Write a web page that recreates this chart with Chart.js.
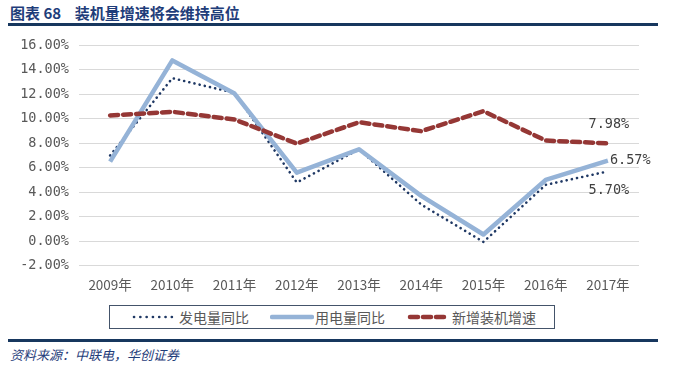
<!DOCTYPE html>
<html>
<head>
<meta charset="utf-8">
<script src="https://cdn.jsdelivr.net/npm/chart.js@4/dist/chart.umd.min.js"></script>
<style>
  body { margin: 0; background: #fff; }
  #wrap { position: relative; width: 673px; height: 370px; overflow: hidden; font-family: "Noto Sans CJK SC", sans-serif; }
  #title { position: absolute; left: 10px; top: 2px; font-size: 15px; font-weight: bold; color: #1F3D7A; white-space: pre; }
  .rule { position: absolute; left: 8px; width: 650px; height: 3px; background: #17375E; }
  #chartBox { position: absolute; left: 0; top: 27px; width: 673px; height: 277px; }
  #legend { position: absolute; left: 109px; top: 305px; width: 444px; height: 22px; border: 1px solid #44546A; font-size: 14px; color: #595959; }
  .item { position: absolute; top: 0; height: 22px; line-height: 22px; white-space: nowrap; }
  .item svg { position: absolute; top: 8px; left: 0; }
  .item span { position: absolute; top: 0; }
  #source { position: absolute; left: 10px; top: 345px; font-size: 13px; font-style: italic; color: #1F3D7A; }
</style>
</head>
<body>
<div id="wrap">
  <div id="title">图表 68    装机量增速将会维持高位</div>
  <div class="rule" style="top:23px"></div>
  <div id="chartBox"><canvas id="myChart"></canvas></div>
  <div id="legend">
    <div class="item" style="left:22px">
      <svg width="42" height="6"><line x1="2" y1="3" x2="40" y2="3" stroke="#1F3864" stroke-width="2.6" stroke-linecap="round" stroke-dasharray="0.1 6.2"/></svg>
      <span style="left:47px">发电量同比</span>
    </div>
    <div class="item" style="left:160px">
      <svg width="44" height="6"><line x1="2" y1="3" x2="42" y2="3" stroke="#95B3D7" stroke-width="4.5" stroke-linecap="round"/></svg>
      <span style="left:45px">用电量同比</span>
    </div>
    <div class="item" style="left:297px">
      <svg width="42" height="6"><line x1="3" y1="3" x2="40" y2="3" stroke="#953735" stroke-width="4.5" stroke-linecap="round" stroke-dasharray="8 5"/></svg>
      <span style="left:45px">新增装机增速</span>
    </div>
  </div>
  <div class="rule" style="top:339px"></div>
  <div id="source">资料来源：中联电，华创证券</div>
</div>
<script>
const years = ['2009年', '2010年', '2011年', '2012年', '2013年', '2014年', '2015年', '2016年', '2017年'];
const genGrowth = [7.0, 13.3, 12.1, 4.8, 7.5, 3.0, -0.05, 4.6, 5.70];
const useGrowth = [6.5, 14.75, 12.05, 5.6, 7.5, 3.7, 0.55, 5.0, 6.57];
const capGrowth = [10.26, 10.56, 9.93, 7.97, 9.71, 8.98, 10.61, 8.22, 7.98];
const yMin = -2, yMax = 16, yStep = 2;

const monoFont = { family: '"DejaVu Sans Mono", monospace', size: 13.5 };

// labels on the last point of each series
const endLabels = {
    id: 'endLabels',
    afterDatasetsDraw(chart) {
        const ctx = chart.ctx;
        const xs = chart.scales.x, ys = chart.scales.y;
        const last = years.length - 1;
        const x = xs.getPixelForValue(last);
        ctx.save();
        ctx.font = monoFont.size + 'px ' + monoFont.family;
        ctx.fillStyle = '#404040';
        ctx.textBaseline = 'middle';
        ctx.textAlign = 'center';
        ctx.fillText(capGrowth[last].toFixed(2) + '%', x + 1, ys.getPixelForValue(capGrowth[last]) - 19);
        ctx.fillText(genGrowth[last].toFixed(2) + '%', x + 1, ys.getPixelForValue(genGrowth[last]) + 19);
        ctx.textAlign = 'left';
        ctx.fillText(useGrowth[last].toFixed(2) + '%', x + 2, ys.getPixelForValue(useGrowth[last]));
        ctx.restore();
    }
};

const myChart = new Chart(document.getElementById('myChart'), {
    type: 'line',
    data: {
        labels: years,
        datasets: [{
            label: '发电量同比',
            data: genGrowth,
            borderColor: '#1F3864',
            borderWidth: 2.6,
            borderDash: [0.1, 5.2],
            borderCapStyle: 'round',
            pointRadius: 0,
            order: 2
        }, {
            label: '用电量同比',
            data: useGrowth,
            borderColor: '#95B3D7',
            borderWidth: 4.5,
            borderJoinStyle: 'round',
            pointRadius: 0,
            order: 1
        }, {
            label: '新增装机增速',
            data: capGrowth,
            borderColor: '#953735',
            borderWidth: 4.5,
            borderDash: [8, 5],
            borderCapStyle: 'round',
            pointRadius: 0,
            order: 0
        }]
    },
    options: {
        responsive: true,
        maintainAspectRatio: false,
        animation: false,
        layout: { padding: { top: 9, right: 34, left: 0, bottom: 0 } },
        plugins: {
            legend: { display: false },
            tooltip: { enabled: false }
        },
        scales: {
            x: {
                offset: true,
                grid: { display: false, drawTicks: false },
                border: { display: false },
                ticks: {
                    color: '#595959',
                    padding: 11,
                    maxRotation: 0,
                    autoSkip: false,
                    font: { family: '"Noto Sans CJK SC", sans-serif', size: 13.5 }
                }
            },
            y: {
                min: yMin,
                max: yMax,
                grid: { color: '#D9D9D9', lineWidth: 1, drawTicks: false },
                border: { display: false },
                afterFit(scale) { scale.width = 79; },
                ticks: {
                    stepSize: yStep,
                    padding: 10,
                    color: '#595959',
                    font: monoFont,
                    callback: v => v.toFixed(2) + '%'
                }
            }
        }
    },
    plugins: [endLabels]
});
</script>
</body>
</html>
